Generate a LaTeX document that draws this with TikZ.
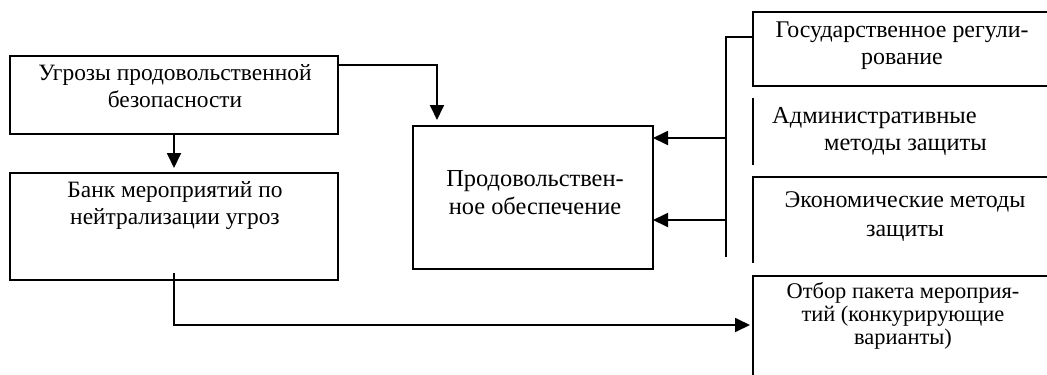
\documentclass[tikz,border=0pt]{standalone}
\usepackage{fontspec}
\setmainfont{Liberation Serif}
\usetikzlibrary{arrows.meta}
\newcommand\mylines[2][c]{\begin{tabular}[t]{@{}#1@{}}#2\end{tabular}}
\setlength{\tabcolsep}{0pt}
\tikzset{
  box/.style={draw, line width=1.8bp, inner sep=0pt, outer sep=0pt},
  lbl/.style={anchor=base, inner sep=0pt, font=\fontsize{24}{28}\selectfont},
  edge/.style={line width=1.8bp},
  arr/.style={line width=1.8bp, -{Triangle[length=15bp,width=14bp]}},
}
\begin{document}
\begin{tikzpicture}[x=1bp,y=-1bp]
\useasboundingbox (0,0) rectangle (1047,374);
% left column
\node[box, minimum width=328bp, minimum height=78bp] (b1) at (174,95) {};
\node[lbl, font=\fontsize{23.5}{28}\selectfont] (t1) at (175,80) {\mylines{Угрозы продовольственной\\безопасности}};
\node[box, minimum width=328bp, minimum height=107bp] (b2) at (174,226.5) {};
\node[lbl, font=\fontsize{23.5}{28}\selectfont] (t2) at (175,197) {\mylines{Банк мероприятий по\\нейтрализации угроз}};
% centre box
\node[box, minimum width=240bp, minimum height=143bp] (prod) at (533,197.5) {};
\node[lbl, font=\fontsize{24.5}{29}\selectfont] (tp) at (535,186) {\mylines{Продовольствен-\\ное обеспечение}};
% right column frames (open to the right)
\coordinate (gosL) at (753,37);
\draw[edge] (1050,12) -- (753,12) -- (753,86) -- (1050,86);
\node[lbl] (tg) at (902,37) {\mylines{Государственное регули-\\рование}};
\draw[edge] (753,98) -- (753,165);
\node[lbl, anchor=base west, font=\fontsize{24.5}{27.5}\selectfont] (ta) at (772,123) {\mylines[l]{Административные\\\hspace*{52bp}методы защиты}};
\draw[edge] (1050,177) -- (753,177) -- (753,263);
\node[lbl, font=\fontsize{24}{30}\selectfont] (te) at (905,207) {\mylines{Экономические методы\\защиты}};
\coordinate (otbL) at (753,325);
\draw[edge] (1050,276) -- (753,276) -- (753,376);
\node[lbl, font=\fontsize{22.5}{23.5}\selectfont] (to) at (903,298) {\mylines{Отбор пакета мероприя-\\тий (конкурирующие\\варианты)}};
% bus
\coordinate (busT) at (726,37);
\coordinate (busB) at (726,257);
\coordinate (bus1) at (726,138);
\coordinate (bus2) at (726,220);
\draw[edge] (gosL) -- (busT) -- (busB);
% connectors
\draw[arr, shorten >=5bp] (b1.south) -- (b2.north);
\draw[arr, shorten >=6bp] ([yshift=-9bp]b1.north east) -| ([xshift=24bp]prod.north west);
\draw[arr] (bus1) -- (bus1 -| prod.east);
\draw[arr] (bus2) -- (bus2 -| prod.east);
\draw[arr, shorten >=3bp] ([yshift=7bp]b2.south) |- (otbL);
\end{tikzpicture}
\end{document}
